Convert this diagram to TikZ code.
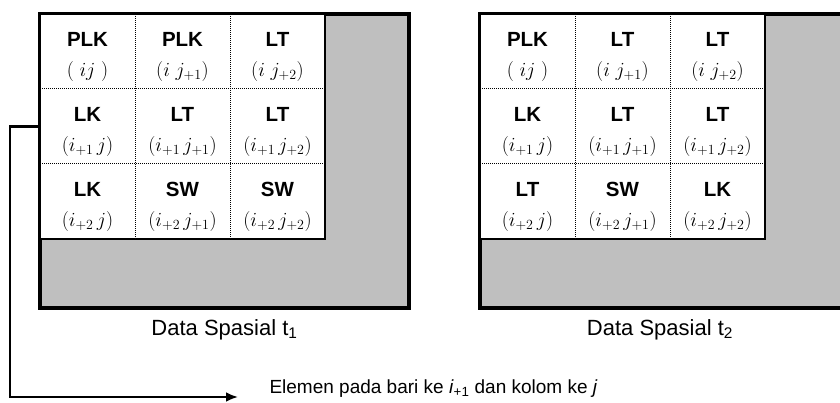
\documentclass[tikz,border=0pt]{standalone}
\usepackage{fix-cm}
\usepackage{fontspec}
\setmainfont{Liberation Sans}
\usetikzlibrary{positioning,arrows.meta}

\definecolor{panelgray}{HTML}{BFBFBF}

\tikzset{
    outerbox/.style={draw=black, line width=3.2pt, fill=panelgray},
    innerbox/.style={draw=black, line width=1.8pt, fill=white},
    gridline/.style={line width=1pt, dash pattern=on 1pt off 1pt},
    cell/.style={minimum width=95pt, minimum height=75pt, inner sep=0pt, align=center,
        font=\fontsize{20.5}{30}\selectfont},
    caption/.style={font=\fontsize{22}{26}\selectfont},
    note/.style={font=\fontsize{19}{22}\selectfont, anchor=west},
    conn/.style={line width=2.4pt, -{Latex[length=12pt,width=10pt]}},
}
\newcommand{\celltext}[2]{\rule{0pt}{25pt}{\bfseries #1}\\{\fontsize{20}{20}\selectfont$#2$}}

\begin{document}
\begin{tikzpicture}[x=1pt, y=-1pt]
    \clip (0,0) rectangle (840,403);
    \fill[white] (0,0) rectangle (840,403);

    % data spasial t1
    \begin{scope}
        \draw[outerbox] (40,14) rectangle (409,308);
        \draw[innerbox] (40,14) rectangle (325,239);
        \draw[gridline] (135,14) -- (135,239);
        \draw[gridline] (230,14) -- (230,239);
        \draw[gridline] (40,89) -- (325,89);
        \draw[gridline] (40,164) -- (325,164);
        \node[cell] (a11) at (87.5,51.5)  {\celltext{PLK}{(\;ij\;)}};
        \node[cell] (a12) at (182.5,51.5) {\celltext{PLK}{(i\;j_{+1})}};
        \node[cell] (a13) at (277.5,51.5) {\celltext{LT}{(i\;j_{+2})}};
        \node[cell] (a21) at (87.5,126.5)  {\celltext{LK}{(i_{+1}\,j)}};
        \node[cell] (a22) at (182.5,126.5) {\celltext{LT}{(i_{+1}\,j_{+1})}};
        \node[cell] (a23) at (277.5,126.5) {\celltext{LT}{(i_{+1}\,j_{+2})}};
        \node[cell] (a31) at (87.5,201.5)  {\celltext{LK}{(i_{+2}\,j)}};
        \node[cell] (a32) at (182.5,201.5) {\celltext{SW}{(i_{+2}\,j_{+1})}};
        \node[cell] (a33) at (277.5,201.5) {\celltext{SW}{(i_{+2}\,j_{+2})}};
        \node[caption] (cap1) at (224.5,330) {Data Spasial t\textsubscript{1}};
    \end{scope}

    % data spasial t2
    \begin{scope}[xshift=440pt]
        \draw[outerbox] (40,14) rectangle (409,308);
        \draw[innerbox] (40,14) rectangle (325,239);
        \draw[gridline] (135,14) -- (135,239);
        \draw[gridline] (230,14) -- (230,239);
        \draw[gridline] (40,89) -- (325,89);
        \draw[gridline] (40,164) -- (325,164);
        \node[cell] (b11) at (87.5,51.5)  {\celltext{PLK}{(\;ij\;)}};
        \node[cell] (b12) at (182.5,51.5) {\celltext{LT}{(i\;j_{+1})}};
        \node[cell] (b13) at (277.5,51.5) {\celltext{LT}{(i\;j_{+2})}};
        \node[cell] (b21) at (87.5,126.5)  {\celltext{LK}{(i_{+1}\,j)}};
        \node[cell] (b22) at (182.5,126.5) {\celltext{LT}{(i_{+1}\,j_{+1})}};
        \node[cell] (b23) at (277.5,126.5) {\celltext{LT}{(i_{+1}\,j_{+2})}};
        \node[cell] (b31) at (87.5,201.5)  {\celltext{LT}{(i_{+2}\,j)}};
        \node[cell] (b32) at (182.5,201.5) {\celltext{SW}{(i_{+2}\,j_{+1})}};
        \node[cell] (b33) at (277.5,201.5) {\celltext{LK}{(i_{+2}\,j_{+2})}};
        \node[caption] (cap2) at (220,330) {Data Spasial t\textsubscript{2}};
    \end{scope}

    % keterangan
    \node[note] (note) at (266,389) {Elemen pada bari ke \textit{i}\textsubscript{+1} dan kolom ke \textit{j}};
    \coordinate (corner) at (10,397);
    \coordinate (tip) at (238,397);
    \draw[conn] (a21.west) -| (corner) -- (tip);
\end{tikzpicture}
\end{document}
